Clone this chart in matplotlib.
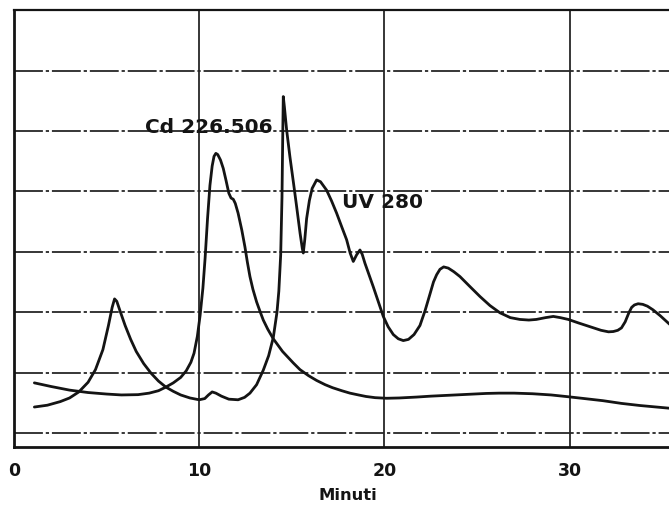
import matplotlib
matplotlib.use("Agg")
import matplotlib.pyplot as plt

# Elution time (minutes) and detector response (grid units) for the two traces
uv_time = [1.1, 1.8, 2.5, 3.0, 3.5, 4.0, 4.4, 4.8, 5.1, 5.3, 5.43, 5.55, 5.75, 6.0,
           6.3, 6.6, 7.0, 7.4, 7.8, 8.2, 8.6, 9.0, 9.5, 10.0, 10.3, 10.5, 10.7, 10.9,
           11.2, 11.6, 12.1, 12.45, 12.74, 13.1, 13.46, 13.75, 14.0, 14.2, 14.3, 14.4,
           14.47, 14.51, 14.54, 14.6, 14.72, 14.9, 15.1, 15.26, 15.45, 15.57, 15.62,
           15.7, 15.8, 15.95, 16.1, 16.34, 16.55, 16.88, 17.15, 17.42, 17.7, 17.96,
           18.15, 18.32, 18.5, 18.68, 18.8, 18.95, 19.4, 19.94, 20.2, 20.48, 20.75,
           21.02, 21.3, 21.6, 21.92, 22.2, 22.46, 22.65, 22.82, 23.0, 23.2, 23.45,
           23.75, 24.08, 24.6, 25.16, 25.7, 26.24, 26.8, 27.32, 27.8, 28.2, 28.7,
           29.12, 29.5, 29.93, 30.5, 31.1, 31.7, 32.1, 32.36, 32.6, 32.8, 33.0, 33.2,
           33.35, 33.5, 33.7, 33.95, 34.2, 34.5, 34.9, 35.4]
uv_signal = [0.43, 0.46, 0.52, 0.58, 0.68, 0.84, 1.05, 1.38, 1.78, 2.08, 2.22, 2.18,
             2.00, 1.78, 1.55, 1.35, 1.15, 0.99, 0.86, 0.76, 0.69, 0.63, 0.58, 0.55,
             0.57, 0.63, 0.68, 0.66, 0.61, 0.56, 0.55, 0.59, 0.66, 0.80, 1.04, 1.28,
             1.58, 2.00, 2.35, 2.95, 3.90, 4.90, 5.57, 5.40, 5.02, 4.57, 4.12, 3.75,
             3.30, 3.05, 2.98, 3.20, 3.55, 3.85, 4.05, 4.19, 4.16, 4.02, 3.84, 3.64,
             3.41, 3.20, 2.98, 2.84, 2.95, 3.03, 2.96, 2.81, 2.42, 1.93, 1.76, 1.63,
             1.56, 1.53, 1.55, 1.63, 1.78, 2.03, 2.30, 2.50, 2.62, 2.71, 2.75, 2.73,
             2.67, 2.59, 2.43, 2.26, 2.11, 1.99, 1.91, 1.88, 1.87, 1.88, 1.91, 1.93,
             1.91, 1.88, 1.82, 1.76, 1.70, 1.675, 1.68, 1.70, 1.74, 1.84, 1.99, 2.08,
             2.12, 2.14, 2.13, 2.10, 2.04, 1.94, 1.80]

cd_time = [1.1, 2.0, 3.0, 4.0, 5.0, 5.8, 6.7, 7.3, 7.8, 8.2, 8.6, 9.0, 9.3, 9.55,
           9.72, 9.9, 10.05, 10.2, 10.32, 10.45, 10.58, 10.7, 10.8, 10.9, 11.0, 11.15,
           11.3, 11.45, 11.6, 11.72, 11.84, 11.95, 12.1, 12.3, 12.47, 12.6, 12.74,
           12.9, 13.1, 13.3, 13.46, 13.7, 14.0, 14.5, 15.08, 15.44, 15.9, 16.34, 16.8,
           17.2, 17.7, 18.14, 18.6, 19.0, 19.5, 20.12, 20.8, 21.74, 22.5, 23.5, 24.5,
           25.5, 26.2, 27.0, 28.0, 29.0, 29.93, 30.8, 31.8, 32.8, 33.8, 35.4]
cd_signal = [0.83, 0.77, 0.71, 0.67, 0.645, 0.63, 0.635, 0.66, 0.70, 0.76, 0.83,
             0.92, 1.03, 1.17, 1.32, 1.60, 1.95, 2.40, 2.90, 3.55, 4.10, 4.42, 4.58,
             4.63, 4.61, 4.52, 4.38, 4.18, 3.97, 3.89, 3.87, 3.80, 3.64, 3.36, 3.08,
             2.83, 2.59, 2.38, 2.17, 2.00, 1.87, 1.72, 1.56, 1.35, 1.16, 1.05, 0.95,
             0.87, 0.80, 0.75, 0.70, 0.66, 0.63, 0.605, 0.585, 0.575, 0.58, 0.595,
             0.61, 0.625, 0.64, 0.655, 0.66, 0.66, 0.65, 0.63, 0.60, 0.57, 0.535,
             0.49, 0.455, 0.41]

x_ticks = [0, 10, 20, 30]
x_tick_labels = ["0", "10", "20", "30"]
y_grid = [0, 1, 2, 3, 4, 5, 6]

W, H = 669, 507
fig = plt.figure(figsize=(W / 100, H / 100), dpi=100)
fig.patch.set_facecolor("white")

left, right, top, bottom = 14, 669, 10, 447
ax = fig.add_axes([left / W, 1 - bottom / H, (right - left) / W, (bottom - top) / H])
ax.set_xlim(0, (right - left) / 18.52)
ax.set_ylim((433 - bottom) / 60.4, (433 - top) / 60.4)

ink = "#141414"
grid_ink = "#262626"

# chart-paper grid
for yv in y_grid:
    ax.axhline(yv, color=grid_ink, lw=1.3, dashes=(16, 1.6, 1.8, 1.6), zorder=1)
for xv in x_ticks[1:]:
    ax.axvline(xv, color=grid_ink, lw=1.3, zorder=1)

ax.plot(uv_time, uv_signal, color=ink, lw=2.0, solid_joinstyle="round",
        solid_capstyle="round", zorder=3)
ax.plot(cd_time, cd_signal, color=ink, lw=2.0, solid_joinstyle="round",
        solid_capstyle="round", zorder=3)

ax.text(10.5, 5.06, "Cd 226.506", fontsize=14.5, fontweight="bold",
        family="DejaVu Sans", color=ink, ha="center", va="center", zorder=4)
ax.text(19.9, 3.82, "UV 280", fontsize=14.5, fontweight="bold",
        family="DejaVu Sans", color=ink, ha="center", va="center", zorder=4)

ax.set_xticks(x_ticks)
ax.set_xticklabels(x_tick_labels, fontsize=12.5, fontweight="bold",
                   family="DejaVu Sans", color=ink)
ax.tick_params(axis="x", length=0, pad=11)
ax.set_yticks([])

ax.set_xlabel("Minuti", fontsize=11.8, fontweight="bold", family="DejaVu Sans",
              color=ink)
ax.xaxis.set_label_coords((347.5 - left) / (right - left), (bottom - 495) / (bottom - top))
ax.xaxis.label.set_va("center")

for side in ("left", "bottom"):
    ax.spines[side].set_linewidth(2.0)
    ax.spines[side].set_color(ink)
ax.spines["top"].set_linewidth(1.6)
ax.spines["top"].set_color(ink)
ax.spines["right"].set_visible(False)

fig.savefig("out.png", dpi=100, facecolor="white")
